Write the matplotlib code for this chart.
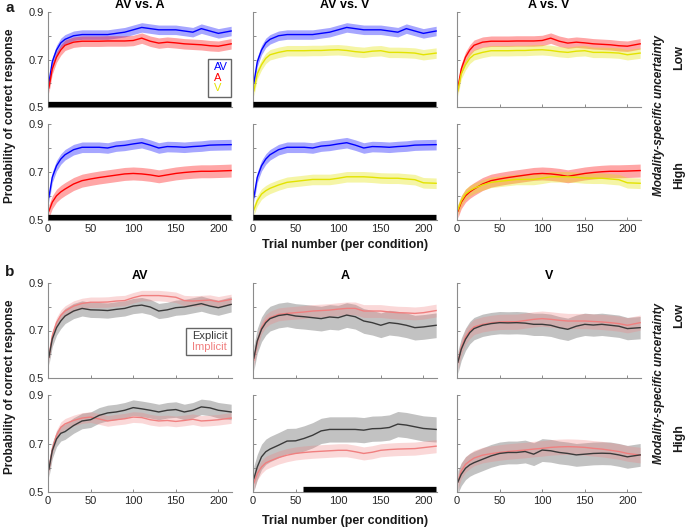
import matplotlib
matplotlib.use("Agg")
import matplotlib.pyplot as plt
from matplotlib.lines import Line2D

plt.rcParams['font.family'] = ['Liberation Sans', 'DejaVu Sans']

# trial grid shared by all curves
trials = [1, 5, 10, 15, 20, 30, 40, 50, 60, 70, 80, 90, 100, 110, 120, 130,
          140, 150, 160, 170, 180, 190, 200, 215]

# panel a: modality curves, low / high uncertainty
av_low = [.600, .690, .740, .770, .785, .800, .805, .805, .805, .805, .810, .815,
          .825, .835, .830, .825, .825, .825, .820, .815, .830, .820, .810, .820]
a_low = [.580, .660, .710, .740, .760, .773, .777, .777, .777, .778, .778, .778,
         .780, .790, .777, .769, .773, .770, .766, .764, .762, .758, .756, .766]
v_low = [.568, .640, .678, .705, .720, .730, .737, .737, .737, .738, .738, .740,
         .741, .738, .733, .730, .735, .737, .730, .730, .729, .727, .720, .727]
av_high = [.594, .678, .726, .754, .772, .793, .803, .803, .803, .800, .808, .811,
           .817, .822, .812, .800, .806, .805, .803, .806, .808, .812, .813, .814]
a_high = [.536, .574, .601, .617, .629, .650, .664, .671, .677, .682, .687, .692,
          .694, .692, .688, .682, .688, .694, .698, .701, .703, .703, .704, .706]
v_high = [.542, .580, .608, .622, .632, .646, .657, .661, .665, .669, .669, .669,
          .674, .680, .680, .680, .678, .675, .674, .674, .671, .668, .655, .653]
sem_a = {'av_low': .02, 'a_low': .022, 'v_low': .022,
         'av_high': .022, 'a_high': .027, 'v_high': .022}

# panel b: explicit vs implicit
av_exp_low = [.587, .664, .712, .740, .761, .782, .793, .787, .786, .784, .789, .793,
              .803, .807, .799, .782, .787, .796, .799, .806, .813, .803, .796, .810]
av_imp_low = [.587, .678, .733, .764, .782, .803, .814, .819, .819, .820, .824, .826,
              .838, .847, .847, .847, .844, .840, .826, .824, .826, .828, .821, .831]
av_exp_high = [.593, .670, .719, .742, .749, .774, .793, .798, .816, .826, .830, .837,
               .848, .843, .837, .830, .837, .840, .830, .837, .851, .847, .837, .830]
av_imp_high = [.593, .677, .733, .767, .781, .795, .805, .809, .801, .793, .798, .802,
               .809, .807, .798, .793, .795, .791, .795, .800, .793, .795, .798, .805]
a_exp_low = [.584, .656, .705, .733, .750, .763, .768, .761, .758, .754, .750, .757,
             .754, .765, .758, .740, .733, .722, .733, .729, .722, .712, .715, .722]
a_imp_low = [.575, .650, .712, .740, .754, .768, .772, .775, .778, .782, .784, .786,
             .790, .793, .793, .782, .782, .782, .778, .775, .774, .772, .775, .784]
a_exp_high = [.555, .603, .645, .666, .677, .693, .710, .711, .721, .734, .752, .758,
              .758, .758, .758, .755, .761, .762, .766, .780, .776, .769, .762, .758]
a_imp_high = [.537, .576, .603, .620, .628, .642, .652, .659, .663, .666, .668, .670,
              .672, .672, .666, .659, .664, .672, .675, .677, .678, .679, .683, .689]
v_exp_low = [.566, .621, .663, .691, .708, .722, .729, .733, .732, .733, .731, .726,
             .726, .722, .712, .705, .718, .726, .723, .726, .722, .718, .708, .712]
v_imp_low = [.566, .628, .673, .698, .715, .726, .732, .736, .737, .737, .742, .747,
             .750, .747, .743, .740, .740, .740, .738, .736, .733, .729, .722, .733]
v_exp_high = [.541, .573, .598, .612, .621, .635, .649, .659, .663, .663, .667, .656,
              .673, .670, .663, .659, .653, .656, .659, .660, .659, .653, .645, .653]
v_imp_high = [.541, .587, .614, .628, .640, .652, .658, .663, .667, .670, .673, .677,
              .680, .684, .686, .687, .686, .684, .680, .677, .672, .667, .659, .652]
sem_exp = {'AV': .032, 'A': .052, 'V': .047}
sem_imp = {'AV': .022, 'A': .027, 'V': .032}

# significance bars (start, end)
sig_a = {(0, 0): (0, 215), (0, 1): (0, 215), (1, 0): (0, 215), (1, 1): (0, 215)}
sig_b = {(1, 1): (59, 215)}

C_AV, C_A, C_V = '#0000ff', '#ff0000', '#e3e300'
C_EXP, C_IMP = '#3a3a3a', '#f07f7f'

W, H = 685, 530
fig = plt.figure(figsize=(6.85, 5.30), dpi=100)

col_left = [48, 253, 457]
col_w = 184
rows_a = [(12, 107), (124, 220)]
rows_b = [(283, 378), (395, 492)]


def make_ax(left, top, bottom):
    ax = fig.add_axes([left / W, 1 - bottom / H, col_w / W, (bottom - top) / H])
    ax.set_xlim(0, 216)
    ax.set_ylim(0.5, 0.9)
    for s in ['top', 'right']:
        ax.spines[s].set_visible(False)
    for s in ['left', 'bottom']:
        ax.spines[s].set_color('#8c8c8c')
        ax.spines[s].set_linewidth(0.8)
    ax.set_xticks([0, 50, 100, 150, 200])
    ax.set_yticks([0.5, 0.6, 0.7, 0.8, 0.9])
    ax.set_yticklabels(['0.5', '', '0.7', '', '0.9'])
    ax.tick_params(direction='in', length=2.5, width=0.7, color='#8c8c8c',
                   labelsize=8, labelcolor='#262626', pad=3)
    return ax


def band(ax, y, sem, color, alpha):
    lo = [v - sem for v in y]
    hi = [v + sem for v in y]
    ax.fill_between(trials, lo, hi, color=color, alpha=alpha, lw=0)


def sigbar(ax, x0, x1):
    ax.plot([x0, x1], [0.511, 0.511], color='k', lw=3.8, solid_capstyle='butt',
            clip_on=False, zorder=5)


def text_legend(ax, labels, colors, anchor):
    hs = [Line2D([], [], lw=0) for _ in labels]
    leg = ax.legend(hs, labels, loc='upper right', bbox_to_anchor=anchor,
                    handlelength=0, handletextpad=0.25, fancybox=False, fontsize=8,
                    borderpad=0.3, labelspacing=0.05, borderaxespad=0,
                    labelcolor=colors)
    leg.get_frame().set_edgecolor('#404040')
    leg.get_frame().set_linewidth(1.0)
    return leg


# ---- panel a ----
pairs_a = [('AV vs. A', [(av_low, 'av_low', C_AV), (a_low, 'a_low', C_A)],
                        [(av_high, 'av_high', C_AV), (a_high, 'a_high', C_A)]),
           ('AV vs. V', [(av_low, 'av_low', C_AV), (v_low, 'v_low', C_V)],
                        [(av_high, 'av_high', C_AV), (v_high, 'v_high', C_V)]),
           ('A vs. V', [(a_low, 'a_low', C_A), (v_low, 'v_low', C_V)],
                       [(a_high, 'a_high', C_A), (v_high, 'v_high', C_V)])]

for c, (title, low, high) in enumerate(pairs_a):
    for r, series in enumerate([low, high]):
        top, bot = rows_a[r]
        ax = make_ax(col_left[c], top, bot)
        for y, key, col in series:
            band(ax, y, sem_a[key], col, 0.35)
        for y, key, col in series:
            ax.plot(trials, y, color=col, lw=1.0)
        if (r, c) in sig_a:
            sigbar(ax, *sig_a[(r, c)])
        if r == 0:
            ax.set_title(title, fontsize=9, fontweight='bold', pad=3)
            ax.set_xticklabels([])
        if c > 0:
            ax.set_yticklabels([])
        if r == 0 and c == 0:
            text_legend(ax, ['AV', 'A', 'V'], [C_AV, C_A, C_V], (0.995, 0.505))

# ---- panel b ----
data_b = [('AV', (av_exp_low, av_imp_low), (av_exp_high, av_imp_high)),
          ('A', (a_exp_low, a_imp_low), (a_exp_high, a_imp_high)),
          ('V', (v_exp_low, v_imp_low), (v_exp_high, v_imp_high))]

for c, (title, low, high) in enumerate(data_b):
    for r, (ye, yi) in enumerate([low, high]):
        top, bot = rows_b[r]
        ax = make_ax(col_left[c], top, bot)
        band(ax, ye, sem_exp[title], '#6e6e6e', 0.42)
        band(ax, yi, sem_imp[title], '#f08080', 0.3)
        ax.plot(trials, yi, color=C_IMP, lw=1.0)
        ax.plot(trials, ye, color=C_EXP, lw=1.0)
        if (r, c) in sig_b:
            sigbar(ax, *sig_b[(r, c)])
        if r == 0:
            ax.set_title(title, fontsize=9, fontweight='bold', pad=3)
            ax.set_xticklabels([])
        if c > 0:
            ax.set_yticklabels([])
        if r == 0 and c == 0:
            text_legend(ax, ['Explicit', 'Implicit'], [C_EXP, C_IMP], (0.995, 0.525))

# ---- labels ----
bold = dict(fontweight='bold', color='#1a1a1a')
fig.text(10 / W, 1 - 8 / H, 'a', fontsize=11, va='center', ha='center', **bold)
fig.text(10 / W, 1 - 272 / H, 'b', fontsize=11, va='center', ha='center', **bold)
for yc in [116, 387]:
    fig.text(10 / W, 1 - yc / H, 'Probability of correct response', rotation=90,
             fontsize=8.5, va='center', ha='center', **bold)
for yc in [245, 521]:
    fig.text(345 / W, 1 - yc / H, 'Trial number (per condition)', fontsize=9,
             va='center', ha='center', **bold)
for yc, ylow, yhigh in [(115, 57, 175), (383, 315, 438)]:
    fig.text(659 / W, 1 - yc / H, 'Modality-specific uncertainty', rotation=90,
             fontsize=8.5, style='italic', va='center', ha='center', **bold)
    fig.text(679 / W, 1 - ylow / H, 'Low', rotation=90, fontsize=9,
             va='center', ha='center', **bold)
    fig.text(679 / W, 1 - yhigh / H, 'High', rotation=90, fontsize=9,
             va='center', ha='center', **bold)

fig.savefig('out.png', dpi=100)
